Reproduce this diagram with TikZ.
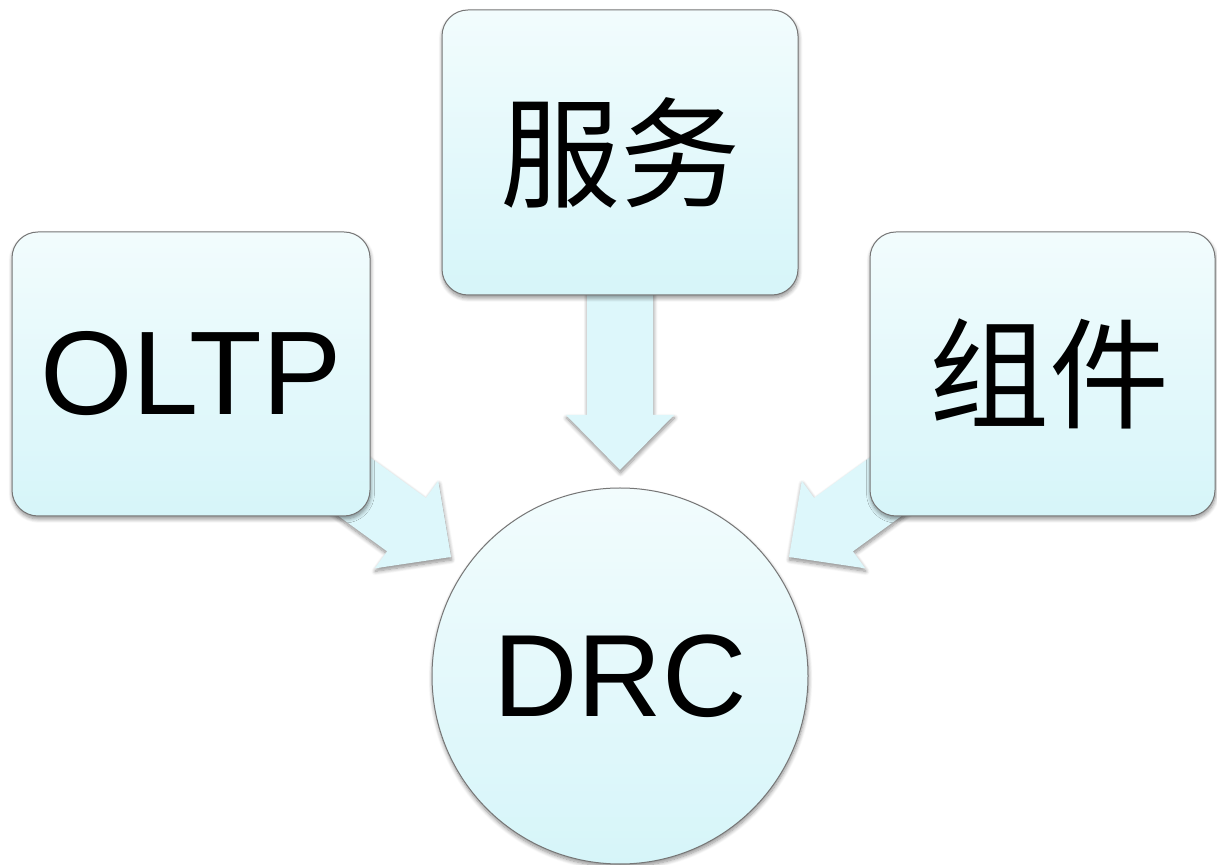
\documentclass[tikz,border=0pt]{standalone}
\usepackage{fontspec}
\setmainfont{Liberation Sans}
\newfontfamily\cjk{Noto Sans CJK SC}
\usetikzlibrary{calc,shadows.blur}

\definecolor{paletop}{HTML}{F2FCFD}
\definecolor{palebot}{HTML}{D6F5F9}
\definecolor{arrowcyan}{HTML}{DDF7FB}
\definecolor{rimgray}{HTML}{767676}

\tikzset{
  softshadow/.style={blur shadow={shadow xshift=0.5pt, shadow yshift=-3pt,
      shadow blur radius=4pt, shadow blur steps=8, shadow opacity=45}},
  card/.style={draw=rimgray, line width=1pt, rounded corners=26pt,
      top color=paletop, bottom color=palebot, softshadow, inner sep=0pt,
      font=\fontsize{119}{130}\selectfont},
  cjkcard/.style={card, font=\cjk\fontsize{120}{136}\selectfont},
  hub/.style={circle, draw=rimgray, line width=1pt,
      top color=paletop, bottom color=palebot, softshadow, inner sep=0pt,
      font=\fontsize{117}{130}\selectfont},
  flow/.style={fill=arrowcyan, softshadow},
}

% block arrow: tip coordinate, direction angle, total length
\newcommand\flowarrow[3]{%
  \path[flow] (#1)
    -- ++($({#2+180}:55)+({#2+90}:54)$)
    -- ++({#2-90}:21)
    -- ++({#2+180}:{#3-55})
    -- ++({#2-90}:66)
    -- ++(#2:{#3-55})
    -- ++({#2-90}:21)
    -- cycle;}

\begin{document}
\begin{tikzpicture}[x=1pt, y=1pt]
  \useasboundingbox (0,0) rectangle (1217,864);

  % arrow tips in front of the hub
  \coordinate (tipS) at (620,394);
  \coordinate (tipL) at (451,307);
  \coordinate (tipR) at (789,307);

  % arrows go first so the boxes cover their tails
  \flowarrow{tipS}{-90}{200}
  \flowarrow{tipL}{-36}{200}
  \flowarrow{tipR}{216}{200}

  \node[cjkcard, minimum width=356pt, minimum height=285pt] (svc) at (620,711.5) {服务};
  \node[card, minimum width=358pt, minimum height=284pt] (oltp) at (191,490) {OLTP};
  \node[cjkcard, minimum width=345pt, minimum height=284pt] (comp) at (1042.5,490) {\hspace*{14pt}组件};

  \node[hub, minimum size=376pt] (drc) at (620,188) {DRC};
\end{tikzpicture}
\end{document}
